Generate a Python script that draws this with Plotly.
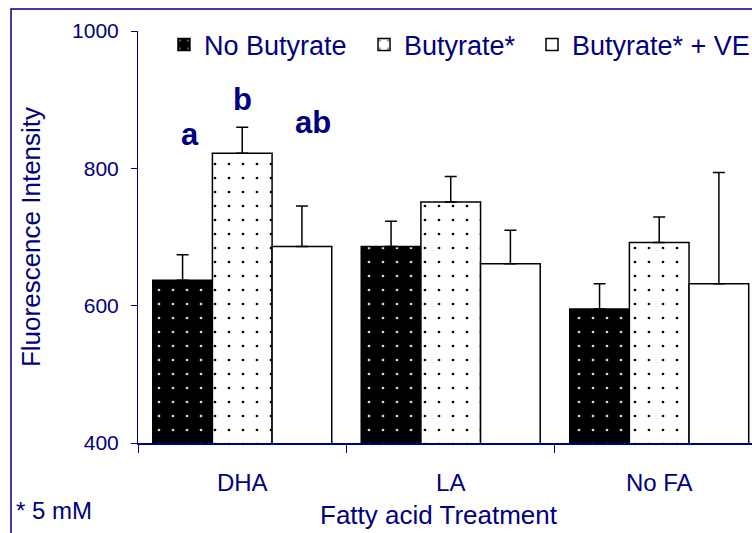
import plotly.graph_objects as go

categories = ["DHA", "LA", "No FA"]
series_names = ["No Butyrate", "Butyrate*", "Butyrate* + VE"]
no_butyrate = [637, 686, 595]
butyrate = [822, 751, 692]
butyrate_ve = [686, 661, 632]
no_butyrate_err = [37, 37, 37]
butyrate_err = [38, 37, 37]
butyrate_ve_err = [59, 49, 162]

sig_letters = ["a", "b", "ab"]
sig_values = [850, 900, 867]
sig_offsets = [-0.25, 0.0, 0.34]

NAVY = "#000080"
FONT = "Liberation Sans, Arial, sans-serif"

fig = go.Figure()
styles = [
    dict(color="black", pattern=dict(shape=".", size=14, solidity=0.03, fgcolor="#d8d8d8", bgcolor="black", fillmode="replace")),
    dict(color="white", pattern=dict(shape=".", size=14, solidity=0.03, fgcolor="black", bgcolor="white", fillmode="replace")),
    dict(color="white"),
]
legend_ids = ["legend", "legend2", "legend3"]
legend_x = [0.0423, 0.3681, 0.6417]
vals = [no_butyrate, butyrate, butyrate_ve]
errs = [no_butyrate_err, butyrate_err, butyrate_ve_err]
for name, v, e, st, lg in zip(series_names, vals, errs, styles, legend_ids):
    fig.add_trace(go.Bar(
        x=categories, y=v, name=name, legend=lg,
        marker=dict(line=dict(color="black", width=1.5), **st),
        error_y=dict(type="data", array=e, arrayminus=[0] * len(e), symmetric=False,
                     color="black", thickness=1.5, width=6),
    ))

for lab, yv, off in zip(sig_letters, sig_values, sig_offsets):
    fig.add_annotation(x=0 + off, y=yv, xref="x", yref="y", text=lab, showarrow=False,
                       font=dict(family=FONT, size=31, color=NAVY, weight="bold"),
                       xanchor="center", yanchor="middle")

fig.add_annotation(x=0.4902, y=-0.175, xref="paper", yref="paper", text="Fatty acid Treatment",
                   showarrow=False, font=dict(family=FONT, size=26, color=NAVY),
                   xanchor="center", yanchor="middle")
fig.add_annotation(x=-0.202, y=-0.163, xref="paper", yref="paper", text="* 5 mM",
                   showarrow=False, font=dict(family=FONT, size=24, color=NAVY),
                   xanchor="left", yanchor="middle")

fig.add_shape(type="rect", xref="paper", yref="paper", x0=-0.2068, x1=1.2, y0=-0.5, y1=1.0534,
              line=dict(color=NAVY, width=1.5), layer="below")

legend_common = dict(orientation="h", y=0.966, xanchor="left", yanchor="middle",
                     font=dict(family=FONT, size=27, color=NAVY), bgcolor="rgba(0,0,0,0)")

fig.update_layout(
    width=752, height=533,
    margin=dict(l=138, r=0, t=31, b=90, pad=0, autoexpand=False),
    paper_bgcolor="white", plot_bgcolor="white",
    barmode="group", bargap=0.1415, bargroupgap=0,
    font=dict(family=FONT, color=NAVY),
    showlegend=True,
    legend=dict(x=legend_x[0], **legend_common),
    legend2=dict(x=legend_x[1], **legend_common),
    legend3=dict(x=legend_x[2], **legend_common),
    xaxis=dict(type="category", range=[-0.5, 2.445], showline=True, linecolor=NAVY, linewidth=1.5,
               ticks="outside", tickson="boundaries", ticklen=8, tickcolor=NAVY, tickwidth=1,
               tickfont=dict(family=FONT, size=24, color=NAVY), ticklabelstandoff=17,
               showgrid=False, zeroline=False),
    yaxis=dict(range=[400, 1000], tickvals=[400, 600, 800, 1000], showline=True, linecolor=NAVY,
               linewidth=1, ticks="outside", ticklen=6, tickcolor=NAVY,
               tickfont=dict(family=FONT, size=21, color=NAVY), ticklabelstandoff=8,
               showgrid=False, zeroline=False,
               title=dict(text="Fluorescence Intensity", font=dict(family=FONT, size=26, color=NAVY), standoff=23)),
)

fig.write_html("out.html")
